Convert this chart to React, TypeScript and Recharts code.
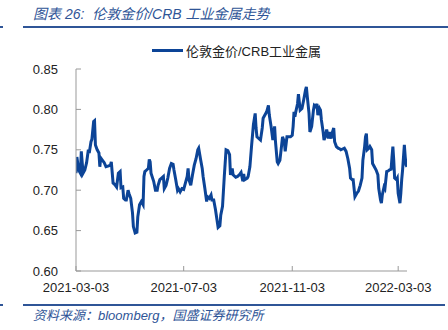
import { LineChart, Line, XAxis, YAxis } from "recharts";

// days counted from 2021-03-03
const days = [
  0, 1, 3, 5, 6, 8, 10, 12, 14, 15, 17, 18, 20, 21, 22, 24, 26, 27, 28, 30,
  32, 34, 37, 39, 40, 42, 44, 46, 48, 50, 51, 53, 54, 56, 57, 59, 60, 62, 64, 65,
  67, 69, 70, 72, 74, 76, 77, 78, 80, 82, 83, 84, 85, 88, 90, 92, 93, 95, 97, 99,
  100, 102, 104, 106, 108, 110, 111, 113, 115, 116, 118, 120, 122, 124, 126, 127, 128, 130, 132, 134,
  136, 138, 139, 141, 143, 144, 146, 148, 149, 151, 153, 154, 156, 158, 161, 163, 164, 166, 168, 170,
  172, 174, 175, 177, 178, 181, 183, 185, 187, 189, 190, 191, 194, 195, 197, 199, 201, 203, 204, 205,
  207, 209, 211, 212, 214, 216, 218, 219, 221, 223, 225, 226, 228, 229, 231, 233, 234, 236, 237, 239,
  241, 243, 245, 246, 247, 248, 249, 251, 252, 254, 256, 258, 260, 261, 262, 264, 265, 267, 269, 270,
  272, 273, 274, 276, 277, 278, 280, 281, 283, 284, 286, 287, 289, 290, 292, 293, 295, 297, 299, 300,
  302, 304, 306, 308, 310, 311, 313, 314, 316, 318, 320, 322, 324, 325, 327, 328, 329, 330, 332, 333,
  335, 336, 338, 340, 342, 343, 345, 346, 347, 349, 350, 352, 354, 355, 357, 358, 359, 360, 361, 363,
  364, 365, 367, 368, 369, 370, 372, 373, 374, 375,
];

const ratio = [
  0.721, 0.741, 0.725, 0.721, 0.748, 0.721, 0.725, 0.734, 0.75, 0.746, 0.76, 0.763, 0.785, 0.786, 0.756, 0.75, 0.746, 0.729, 0.74, 0.737,
  0.734, 0.729, 0.73, 0.731, 0.735, 0.709, 0.707, 0.704, 0.721, 0.723, 0.703, 0.704, 0.69, 0.688, 0.688, 0.7, 0.696, 0.69, 0.672, 0.655,
  0.647, 0.648, 0.667, 0.682, 0.686, 0.682, 0.717, 0.723, 0.725, 0.727, 0.738, 0.735, 0.721, 0.711, 0.7, 0.7, 0.706, 0.713, 0.715, 0.717,
  0.702, 0.706, 0.715, 0.727, 0.733, 0.732, 0.725, 0.713, 0.7, 0.702, 0.698, 0.702, 0.701, 0.709, 0.717, 0.727, 0.713, 0.706, 0.719, 0.731,
  0.739, 0.75, 0.752, 0.739, 0.727, 0.717, 0.702, 0.686, 0.692, 0.69, 0.694, 0.688, 0.688, 0.676, 0.654, 0.656, 0.669, 0.68, 0.717, 0.75,
  0.749, 0.744, 0.719, 0.727, 0.719, 0.716, 0.717, 0.719, 0.722, 0.711, 0.72, 0.713, 0.715, 0.717, 0.729, 0.756, 0.781, 0.795, 0.777, 0.766,
  0.764, 0.762, 0.777, 0.789, 0.793, 0.797, 0.805, 0.793, 0.779, 0.762, 0.779, 0.76, 0.735, 0.733, 0.737, 0.756, 0.766, 0.76, 0.748, 0.766,
  0.766, 0.766, 0.768, 0.779, 0.797, 0.791, 0.797, 0.807, 0.819, 0.799, 0.801, 0.812, 0.824, 0.828, 0.816, 0.795, 0.772, 0.779, 0.799, 0.805,
  0.803, 0.807, 0.793, 0.801, 0.799, 0.787, 0.772, 0.762, 0.768, 0.775, 0.764, 0.772, 0.764, 0.77, 0.777, 0.76, 0.754, 0.752, 0.751, 0.75,
  0.751, 0.752, 0.748, 0.739, 0.727, 0.715, 0.713, 0.713, 0.692, 0.696, 0.699, 0.706, 0.715, 0.737, 0.754, 0.766, 0.77, 0.75, 0.752, 0.754,
  0.75, 0.733, 0.729, 0.725, 0.719, 0.702, 0.688, 0.684, 0.694, 0.704, 0.702, 0.723, 0.724, 0.725, 0.726, 0.741, 0.754, 0.737, 0.715, 0.713,
  0.715, 0.696, 0.684, 0.696, 0.713, 0.725, 0.756, 0.741, 0.731, 0.729,
];

const tickDays = [0, 122, 245, 365];
const tickLabels = ["2021-03-03", "2021-07-03", "2021-11-03", "2022-03-03"];
const yTicks = [0.6, 0.65, 0.7, 0.75, 0.8, 0.85];

const seriesName = "伦敦金价/CRB工业金属";
const title = "图表 26:  伦敦金价/CRB 工业金属走势";
const source = "资料来源：bloomberg，国盛证券研究所";

const data = days.map((d, i) => ({ day: d, value: ratio[i] }));

const blue = "#0c4497";
const headBlue = "#2f5597";
const axisGray = "#999999";
const font = '"Liberation Sans", Arial, sans-serif';
const cjkFont = '"Liberation Sans", "Noto Sans CJK SC", sans-serif';

export default function App() {
  return (
    <div
      style={{
        position: "fixed",
        left: 0,
        top: 0,
        width: 448,
        height: 330,
        background: "#fff",
        fontFamily: font,
        overflow: "hidden",
      }}
    >
      <div
        style={{
          position: "absolute",
          left: 33,
          top: 3,
          fontSize: 14,
          fontStyle: "italic",
          color: headBlue,
          whiteSpace: "pre",
          fontFamily: cjkFont,
        }}
      >
        {title}
      </div>
      <div style={{ position: "absolute", left: 0, top: 26, width: 3, height: 1.5, background: headBlue }} />
      <div style={{ position: "absolute", left: 23, top: 26, width: 425, height: 1.5, background: headBlue }} />

      <div style={{ position: "absolute", left: 152, top: 49, width: 31, height: 3, background: blue }} />
      <div
        style={{
          position: "absolute",
          left: 186,
          top: 41,
          fontSize: 13,
          color: "#222",
          whiteSpace: "nowrap",
          fontFamily: cjkFont,
        }}
      >
        {seriesName}
      </div>

      <div style={{ position: "absolute", left: 0, top: 0 }}>
        <LineChart
          width={448}
          height={330}
          data={data}
          margin={{ top: 69, right: 41, bottom: 29, left: 16 }}
        >
          <XAxis
            dataKey="day"
            type="number"
            domain={[0, 375]}
            ticks={tickDays}
            tickFormatter={(d: number) => tickLabels[tickDays.indexOf(d)] ?? ""}
            interval={0}
            height={30}
            tickSize={-5}
            tickMargin={17}
            stroke={axisGray}
            tick={{ fill: "#222", fontSize: 13, fontFamily: font }}
            allowDataOverflow
          />
          <YAxis
            type="number"
            domain={[0.6, 0.85]}
            ticks={yTicks}
            width={60}
            tickSize={-5}
            tickMargin={23}
            tickFormatter={(v: number) => v.toFixed(2)}
            stroke={axisGray}
            tick={{ fill: "#222", fontSize: 13, fontFamily: font }}
            interval={0}
          />
          <Line
            dataKey="value"
            name={seriesName}
            stroke={blue}
            strokeWidth={3}
            dot={false}
            type="linear"
            isAnimationActive={false}
          />
        </LineChart>
      </div>

      <div style={{ position: "absolute", left: 23, top: 304, width: 422, height: 1.5, background: headBlue }} />
      <div style={{ position: "absolute", left: 0, top: 304, width: 3, height: 1.5, background: headBlue }} />
      <div
        style={{
          position: "absolute",
          left: 33,
          top: 305,
          fontSize: 13,
          fontStyle: "italic",
          color: headBlue,
          whiteSpace: "nowrap",
          fontFamily: cjkFont,
        }}
      >
        {source}
      </div>
    </div>
  );
}
